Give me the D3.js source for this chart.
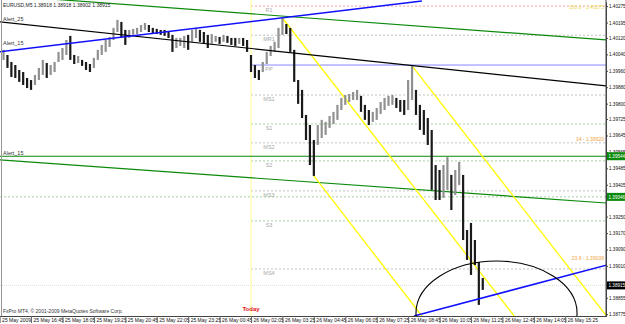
<!DOCTYPE html>
<html><head><meta charset="utf-8">
<script src="https://cdn.jsdelivr.net/npm/d3@7"></script>
<style>
body{margin:0;background:#fff}
svg{display:block;font-family:"Liberation Sans",Arial,sans-serif}
</style>
</head><body>
<svg id="chart" width="625" height="324"></svg>
<script>
// ---- data ----
const symbol = "EURUSD,M5";
const lastOHLC = [1.38918, 1.38918, 1.38902, 1.38915];
const firstBar = "2009-05-25 15:35"; // 10 minute steps from here
const highs = [
 1.40062,1.40037,1.40003,1.39988,1.39964,1.39954,1.39925,1.39915,1.39940,1.39974,
 1.40013,1.39998,1.39988,1.40003,1.40052,1.40071,1.40110,1.40130,1.40037,1.40032,
 1.40013,1.40003,1.39993,1.40023,1.40062,1.40086,1.40110,1.40125,1.40169,1.40208,
 1.40198,1.40159,1.40159,1.40164,1.40169,1.40183,1.40193,1.40183,1.40169,1.40164,
 1.40159,1.40159,1.40154,1.40135,1.40120,1.40120,1.40130,1.40135,1.40159,1.40169,
 1.40159,1.40149,1.40135,1.40139,1.40130,1.40125,1.40135,1.40130,1.40120,1.40120,
 1.40120,1.40120,1.40110,1.40037,1.39988,1.39964,1.40003,1.40052,1.40081,1.40101,
 1.40169,1.40217,1.40188,1.40169,1.40062,1.39915,1.39867,1.39745,1.39696,1.39623,
 1.39696,1.39721,1.39711,1.39740,1.39760,1.39794,1.39828,1.39842,1.39847,1.39857,
 1.39867,1.39838,1.39794,1.39769,1.39760,1.39779,1.39808,1.39828,1.39838,1.39842,
 1.39828,1.39818,1.39818,1.39915,1.39984,1.39867,1.39794,1.39769,1.39730,1.39672,
 1.39501,1.39477,1.39501,1.39540,1.39453,1.39477,1.39516,1.39453,1.39185,1.39219,
 1.39136,1.39029,1.38951];
const lows = [
 1.40013,1.39974,1.39930,1.39925,1.39906,1.39891,1.39876,1.39867,1.39891,1.39915,
 1.39940,1.39925,1.39940,1.39954,1.40003,1.40013,1.40037,1.40013,1.39993,1.39998,
 1.39984,1.39964,1.39954,1.39974,1.40013,1.40037,1.40052,1.40076,1.40110,1.40149,
 1.40120,1.40086,1.40120,1.40135,1.40139,1.40149,1.40159,1.40149,1.40139,1.40139,
 1.40135,1.40130,1.40120,1.40052,1.40071,1.40081,1.40071,1.40062,1.40101,1.40120,
 1.40101,1.40091,1.40071,1.40091,1.40101,1.40091,1.40101,1.40096,1.40086,1.40081,
 1.40091,1.40081,1.40052,1.39954,1.39925,1.39915,1.39954,1.39993,1.40032,1.40052,
 1.40071,1.40135,1.40139,1.40052,1.39906,1.39799,1.39730,1.39623,1.39501,1.39448,
 1.39599,1.39633,1.39648,1.39682,1.39701,1.39721,1.39769,1.39794,1.39808,1.39818,
 1.39818,1.39760,1.39721,1.39696,1.39711,1.39721,1.39750,1.39769,1.39789,1.39794,
 1.39779,1.39760,1.39745,1.39769,1.39818,1.39745,1.39672,1.39648,1.39599,1.39380,
 1.39331,1.39331,1.39341,1.39380,1.39282,1.39355,1.39404,1.39136,1.39039,1.38966,
 1.39014,1.38820,1.38893];
const priceTicks = [1.40275,1.40195,1.40120,1.40040,1.39960,1.39880,1.39800,1.39725,1.39645,1.39565,
 1.39485,1.39405,1.39250,1.39170,1.39090,1.39010,1.38855,1.38775];
const pivotNames = ["R1","MR1","PP","MS1","S1","MS2","S2","MS3","S3","MS4"];
const pivotPrices = [1.40275,1.40133,1.39988,1.39842,1.39701,1.39609,1.39521,1.39375,1.39229,1.38995];
const todayStart = "2009-05-26 02:05";
const alertLevel = 1.39544;
const greenLevel = 1.39346;
const fiboLabels = ["100.0 - 1.40275","14 - 1.39620","23.6 - 1.39039"];
const fiboPrices = [1.40275,1.39620,1.39039];
// trend lines: [time, price] pairs
const blackLine  = [["2009-05-25 15:25",1.40198],["2009-05-26 17:10",1.39886]];
const blueUpper  = [["2009-05-25 15:25",1.40052],["2009-05-26 09:20",1.40300]];
const greenUpper = [["2009-05-25 15:25",1.40328],["2009-05-26 17:10",1.40110]];
const greenLower = [["2009-05-25 15:25",1.39526],["2009-05-26 17:10",1.39316]];
const blueLower  = [["2009-05-26 09:00",1.38766],["2009-05-26 17:10",1.39014]];
const yellow1    = [["2009-05-26 03:25",1.40217],["2009-05-26 13:15",1.38766]];
const yellow2    = [["2009-05-26 08:55",1.39984],["2009-05-26 17:10",1.38766]];
const yellow3    = [["2009-05-26 04:45",1.39448],["2009-05-26 09:20",1.38766]];
const ellipseTimes = ["2009-05-26 09:05","2009-05-26 15:55"];
const ellipsePrices = [1.38781, 1.39034]; // centre, top

// ---- scales ----
const parse = d3.timeParse("%Y-%m-%d %H:%M");
const W = 625, H = 324, plotR = 606, plotB = 316;
const t0 = parse("2009-05-25 15:25");
const x = d3.scaleTime().domain([t0, parse("2009-05-26 17:10")]).range([-0.4, 606.5]);
const y = d3.scaleLinear().domain([1.38766, 1.40295]).range([316, 2]);

const svg = d3.select("#chart");
svg.append("rect").attr("width", W).attr("height", H).attr("fill", "#fff");
svg.append("defs").append("clipPath").attr("id", "plot")
  .append("rect").attr("x", 0).attr("y", 0).attr("width", plotR).attr("height", plotB);
const g = svg.append("g").attr("clip-path", "url(#plot)");

// left border
svg.append("line").attr("x1", 1.5).attr("x2", 1.5).attr("y1", 0).attr("y2", plotB).attr("stroke", "#999");

const xToday = x(parse(todayStart));

// pivot lines
const pivotStyle = n => n === "PP" ? {c:"#6a6aff", d:null} :
  n[0] === "R" ? {c:"#ff8a8a", d:"2,2"} : n[0] === "S" ? {c:"#8cc78c", d:"2,2"} : {c:"#b4b4b4", d:"2,2"};
pivotNames.forEach((n, i) => {
  const s = pivotStyle(n);
  g.append("line").attr("x1", xToday).attr("x2", plotR)
    .attr("y1", y(pivotPrices[i])).attr("y2", y(pivotPrices[i]))
    .attr("stroke", s.c).attr("stroke-width", 0.8).attr("stroke-dasharray", s.d);
  g.append("text").attr("x", xToday + 18).attr("y", y(pivotPrices[i]) + 6)
    .attr("text-anchor", "middle").attr("font-size", 5.5).attr("fill", "#a8a8a8").text(n);
});
// full width green dashed level
g.append("line").attr("x1", 0).attr("x2", plotR).attr("y1", y(greenLevel)).attr("y2", y(greenLevel))
  .attr("stroke", "#8cc78c").attr("stroke-width", 0.8).attr("stroke-dasharray", "2,2");
// bid line
g.append("line").attr("x1", 0).attr("x2", plotR).attr("y1", y(lastOHLC[3])).attr("y2", y(lastOHLC[3]))
  .attr("stroke", "#ddd").attr("stroke-width", 1).attr("stroke-dasharray", "1,1");
// today line
g.append("line").attr("x1", xToday).attr("x2", xToday).attr("y1", 0).attr("y2", plotB)
  .attr("stroke", "#ffffa0").attr("stroke-width", 1.2);

// trend lines
const seg = (pts, col, w) => g.append("line")
  .attr("x1", x(parse(pts[0][0]))).attr("y1", y(pts[0][1]))
  .attr("x2", x(parse(pts[1][0]))).attr("y2", y(pts[1][1]))
  .attr("stroke", col).attr("stroke-width", w);
seg(greenUpper, "#0a8a0a", 1.2);
seg(greenLower, "#0a8a0a", 1.2);
g.append("line").attr("x1", 0).attr("x2", plotR).attr("y1", y(alertLevel)).attr("y2", y(alertLevel))
  .attr("stroke", "#0a8a0a").attr("stroke-width", 1.2);
seg(yellow1, "#ffff00", 1.3);
seg(yellow2, "#ffff00", 1.3);
seg(yellow3, "#ffff00", 1.3);

// bars
const bars = highs.map((h, i) => ({t: d3.timeMinute.offset(parse(firstBar), 10 * i), h, l: lows[i]}));
g.selectAll("rect.bar").data(bars).join("rect").attr("class", "bar")
  .attr("x", d => x(d.t) - 1.1).attr("width", 2.2)
  .attr("y", d => y(d.h)).attr("height", d => Math.max(1, y(d.l) - y(d.h)))
  .attr("fill", (d, i) => i > 0 && (d.h + d.l) < (bars[i-1].h + bars[i-1].l) ? "#1a1a1a" : "#909090");

seg(blackLine, "#000", 1.2);
seg(blueUpper, "#1010ff", 1.5);
seg(blueLower, "#1010ff", 1.5);

// ellipse
const ex0 = x(parse(ellipseTimes[0])), ex1 = x(parse(ellipseTimes[1]));
g.append("ellipse").attr("cx", (ex0 + ex1) / 2).attr("cy", y(ellipsePrices[0]))
  .attr("rx", (ex1 - ex0) / 2).attr("ry", y(ellipsePrices[0]) - y(ellipsePrices[1]))
  .attr("fill", "none").attr("stroke", "#000").attr("stroke-width", 1.1);

// fibo labels
fiboLabels.forEach((s, i) => {
  svg.append("text").attr("x", 604).attr("y", y(fiboPrices[i]) + (i ? 0 : 2.5)).attr("text-anchor", "end")
    .attr("font-size", 5).attr("fill", i ? "#f2a33a" : "#e8dc50").text(s);
});

// texts
svg.append("text").attr("x", 3).attr("y", 7).attr("font-size", 5).attr("fill", "#222")
  .text(symbol + "  " + lastOHLC.map(d3.format(".5f")).join(" "));
svg.append("text").attr("x", 3).attr("y", 21).attr("font-size", 5.5).attr("fill", "#333").text("Alert_25");
svg.append("text").attr("x", 3).attr("y", 45).attr("font-size", 5.5).attr("fill", "#333").text("Alert_15");
svg.append("text").attr("x", 3).attr("y", 155).attr("font-size", 5.5).attr("fill", "#333").text("Alert_15");
svg.append("text").attr("x", 3).attr("y", 313).attr("font-size", 5).attr("fill", "#333")
  .text("FxPro MT4, © 2001-2009 MetaQuotes Software Corp.");
svg.append("text").attr("x", xToday).attr("y", 311).attr("text-anchor", "middle")
  .attr("font-size", 6).attr("font-weight", "bold").attr("fill", "#e01010").text("Today");

// price axis
const ya = svg.append("g").attr("transform", `translate(${plotR},0)`)
  .call(d3.axisRight(y).tickValues(priceTicks).tickSize(2).tickSizeOuter(0).tickFormat(d3.format(".5f")));
ya.select(".domain").attr("stroke", "#444");
ya.selectAll("text").attr("font-size", 4.6).attr("x", 3).attr("fill", "#111");
ya.selectAll("line").attr("stroke", "#444");
svg.append("line").attr("x1", plotR).attr("x2", plotR).attr("y1", 0).attr("y2", plotB).attr("stroke", "#444");

// price boxes
const box = (p, bg) => {
  const yy = y(p);
  svg.append("rect").attr("x", plotR + 1).attr("y", yy - 4).attr("width", 18).attr("height", 8).attr("fill", bg);
  svg.append("text").attr("x", plotR + 2.5).attr("y", yy + 1.8).attr("font-size", 4.6).attr("fill", "#fff").text(d3.format(".5f")(p));
};
box(alertLevel, "#0a8a0a");
box(greenLevel, "#0a8a0a");
box(lastOHLC[3], "#000");

// time axis
const fmt = d3.timeFormat("%-d %b %H:%M");
const ticks = d3.range(0, 20).map(k => d3.timeMinute.offset(t0, 80 * k)).filter(d => x(d) < plotR - 10);
const xa = svg.append("g").attr("transform", `translate(0,${plotB})`)
  .call(d3.axisBottom(x).tickValues(ticks).tickSize(7).tickSizeOuter(0)
    .tickFormat((d, i) => i === 0 ? "25 May 2009" : fmt(d)));
xa.select(".domain").attr("stroke", "#444");
xa.selectAll("line").attr("stroke", "#666");
xa.selectAll("text").attr("font-size", 5).attr("text-anchor", "start").attr("x", 2).attr("y", 2).attr("fill", "#111");
</script>
</body></html>
